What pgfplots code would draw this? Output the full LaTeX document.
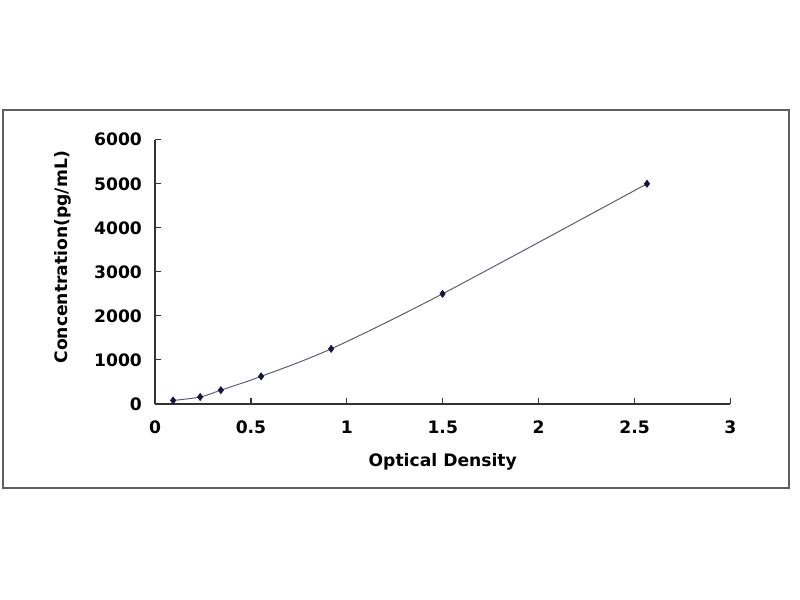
\documentclass[border=0pt]{standalone}
\usepackage{pgfplots}
\pgfplotsset{compat=1.18}
\usepackage{fontspec}
\setmainfont{DejaVu Sans}

\definecolor{markcol}{RGB}{20,20,70}
\definecolor{linecol}{RGB}{90,90,110}
\definecolor{framecol}{RGB}{95,95,95}

\begin{document}
\begin{tikzpicture}[x=0.01in,y=0.01in]
  % page 800 x 600 px, 1 px = 0.01in
  \path[use as bounding box, fill=white] (0,0) rectangle (800,600);
  \draw[framecol, line width=1.6pt] (3,112) rectangle (789,490);

  \begin{axis}[
      at={(1.55in,1.96in)}, anchor=south west,
      scale only axis, width=5.75in, height=2.64in,
      xmin=0, xmax=3, ymin=0, ymax=6000,
      xtick={0,0.5,...,3}, ytick={0,1000,...,6000},
      axis x line*=bottom, axis y line*=left,
      axis line style={black!80, line width=0.9pt},
      tick style={black!80, line width=0.8pt},
      tick align=inside, major tick length=4.5pt,
      font=\bfseries\fontsize{12.4}{14}\selectfont,
      /pgf/number format/assume math mode=true,
      /pgf/number format/1000 sep={},
      xticklabel style={yshift=-9pt},
      yticklabel style={xshift=-6pt},
      xlabel={Optical Density},
      ylabel={Concentration(pg/mL)},
      xlabel style={at={(axis description cs:0.5,0)}, anchor=center, yshift=-0.58in},
      ylabel style={at={(axis description cs:0,0.555)}, anchor=center, yshift=0.92in},
      clip=false,
    ]
    \addplot[linecol, line width=0.7pt, smooth, tension=0.5] coordinates {
      (0.094,78) (0.235,156) (0.343,312) (0.553,625) (0.918,1250) (1.499,2500) (2.565,5000)
    };
    \addplot[only marks, mark=diamond*, mark size=2.6pt, markcol] coordinates {
      (0.094,78) (0.235,156) (0.343,312) (0.553,625) (0.918,1250) (1.499,2500) (2.565,5000)
    };
  \end{axis}
\end{tikzpicture}
\end{document}
